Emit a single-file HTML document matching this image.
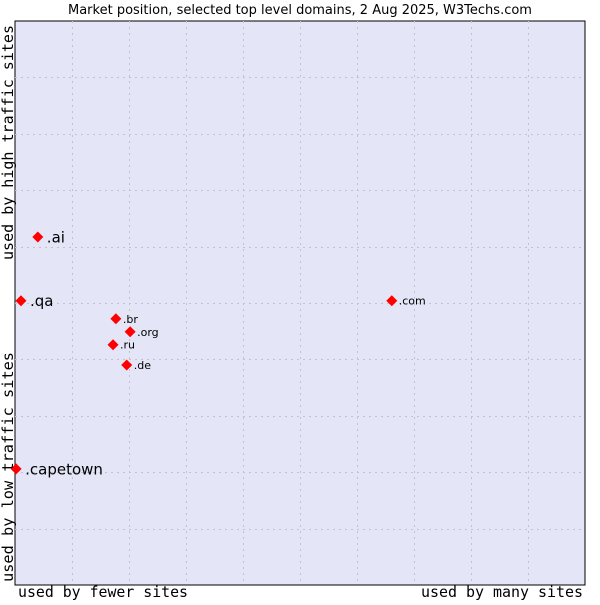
<!DOCTYPE html>
<html><head><meta charset="utf-8"><style>
body{margin:0;background:#fff;width:600px;height:600px;overflow:hidden}
svg text{font-family:"DejaVu Sans","Liberation Sans",sans-serif}
.mono{font-family:"DejaVu Sans Mono","Liberation Mono",monospace}
</style></head><body>
<svg width="600" height="600">
<text x="300" y="14" text-anchor="middle" font-size="13" fill="#000">Market position, selected top level domains, 2 Aug 2025, W3Techs.com</text>
<rect x="15" y="21" width="570" height="564" fill="#e4e6f8" stroke="#000" stroke-width="1"/>
<g id="grid"></g>
<g id="pts"></g>
<text class="mono" x="18" y="597" font-size="15" textLength="170" lengthAdjust="spacingAndGlyphs">used by fewer sites</text>
<text class="mono" x="421" y="597" font-size="15" textLength="162" lengthAdjust="spacingAndGlyphs">used by many sites</text>
<text class="mono" transform="translate(13,260) rotate(-90)" font-size="15" textLength="235" lengthAdjust="spacingAndGlyphs">used by high traffic sites</text>
<text class="mono" transform="translate(13,582) rotate(-90)" font-size="15" textLength="230" lengthAdjust="spacingAndGlyphs">used by low traffic sites</text>
</svg>
<script>
const labels=[".ai",".qa",".capetown",".com",".br",".org",".ru",".de"];
const xs=[0.40,0.105,0.02,6.61,1.77,2.02,1.72,1.96];
const ys=[6.17,5.04,2.06,5.04,4.72,4.49,4.26,3.90];
const big=[true,true,true,false,false,false,false,false];
const X0=15,X1=585,Y0=585,Y1=21;
const sx=v=>X0+v*(X1-X0)/10, sy=v=>Y0-v*(Y0-Y1)/10;
const NS="http://www.w3.org/2000/svg";
const g=document.getElementById('grid');
for(let i=1;i<10;i++){
 let l=document.createElementNS(NS,'line');
 
 
 l.setAttribute('x1',Math.round(sx(i))+.5);l.setAttribute('x2',Math.round(sx(i))+.5);l.setAttribute('y1',Y1);l.setAttribute('y2',Y0);
 l.setAttribute('stroke','#c4c4c4');l.setAttribute('stroke-dasharray','2,4');g.appendChild(l);
 let h=document.createElementNS(NS,'line');
 
 
 h.setAttribute('y1',Math.round(sy(i))+.5);h.setAttribute('y2',Math.round(sy(i))+.5);h.setAttribute('x1',X0);h.setAttribute('x2',X1);
 h.setAttribute('stroke','#c4c4c4');h.setAttribute('stroke-dasharray','2,4');g.appendChild(h);
}
const p=document.getElementById('pts');
labels.forEach((lb,i)=>{
 const x=sx(xs[i]),y=sy(ys[i]);
 let d=document.createElementNS(NS,'polygon');
 
 
 d.setAttribute('points',`${x},${y-5.5} ${x+5.5},${y} ${x},${y+5.5} ${x-5.5},${y}`);
 d.setAttribute('fill','#f00');p.appendChild(d);
 let t=document.createElementNS(NS,'text');
 
 
 t.setAttribute('x',x+(big[i]?9:7));t.setAttribute('y',y+(big[i]?5.5:4));
 t.setAttribute('font-size',big[i]?15:11);t.textContent=lb;p.appendChild(t);
});
</script>
</body></html>
